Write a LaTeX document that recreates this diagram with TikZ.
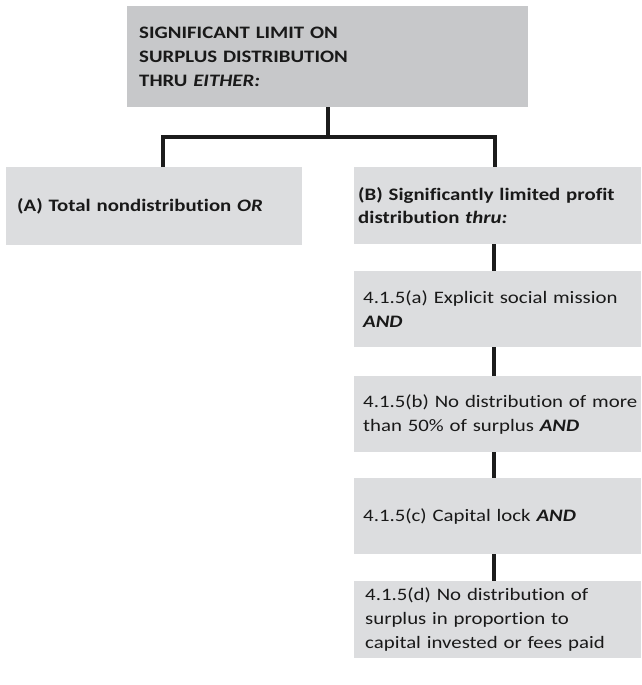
\documentclass[tikz,border=0pt]{standalone}
\usepackage{fontspec}
\setmainfont{Carlito}[Ligatures=CommonOff, FakeStretch=1.19]
\definecolor{topgray}{RGB}{199,200,202}
\definecolor{boxgray}{RGB}{220,221,223}
\definecolor{linec}{RGB}{28,28,28}
\definecolor{txt}{RGB}{25,25,25}
\begin{document}
\begin{tikzpicture}[x=1pt,y=-1pt,
  box/.style={fill=boxgray, draw=none, anchor=north west, inner xsep=0pt, inner ysep=0pt,
    align=left, text=txt, font={\fontsize{17.5}{23.7}\selectfont},
    execute at begin node={\leftskip=#1\relax}},
  box/.default=9pt,
  conn/.style={draw=linec, line width=4pt, line join=miter}]
\useasboundingbox (0,0) rectangle (641,685);
\node[box=12pt, fill=topgray, minimum width=401pt, minimum height=101pt, text width=401pt] (top) at (127,6)
  {\textbf{SIGNIFICANT LIMIT ON\\SURPLUS DISTRIBUTION\\THRU \textit{EITHER:}}};
\node[box=11pt, minimum width=296pt, minimum height=78pt, text width=296pt] (A) at (6,167)
  {\textbf{(A) Total nondistribution \textit{OR}}};
\node[box=4pt, minimum width=287pt, minimum height=77pt, text width=287pt] (B) at (354,167)
  {\textbf{(B) Significantly limited profit\\distribution \textit{thru:}}};
\node[box=9pt, minimum width=287pt, minimum height=76pt, text width=287pt] (a) at (354,271)
  {4.1.5(a) Explicit social mission\\\textbf{\textit{AND}}};
\node[box=9pt, minimum width=287pt, minimum height=76pt, text width=287pt] (b) at (354,376)
  {4.1.5(b) No distribution of more\\than 50\% of surplus \textbf{\textit{AND}}};
\node[box=9pt, minimum width=287pt, minimum height=76pt, text width=287pt] (c) at (354,478)
  {4.1.5(c) Capital lock \textbf{\textit{AND}}};
\node[box=11pt, minimum width=287pt, minimum height=77pt, text width=287pt] (d) at (354,581)
  {4.1.5(d) No distribution of\\surplus in proportion to\\capital invested or fees paid};
\coordinate (j) at (328,137);
\coordinate (jl) at (163,137);
\coordinate (jr) at (495,137);
\coordinate (spine) at (494,0);
\draw[conn] (top.south -| j) -- (j);
\draw[conn] (A.north -| jl) -- (jl) -- (jr) -- (B.north -| jr);
\draw[conn] (B.south -| spine) -- (a.north -| spine);
\draw[conn] (a.south -| spine) -- (b.north -| spine);
\draw[conn] (b.south -| spine) -- (c.north -| spine);
\draw[conn] (c.south -| spine) -- (d.north -| spine);
\end{tikzpicture}
\end{document}
